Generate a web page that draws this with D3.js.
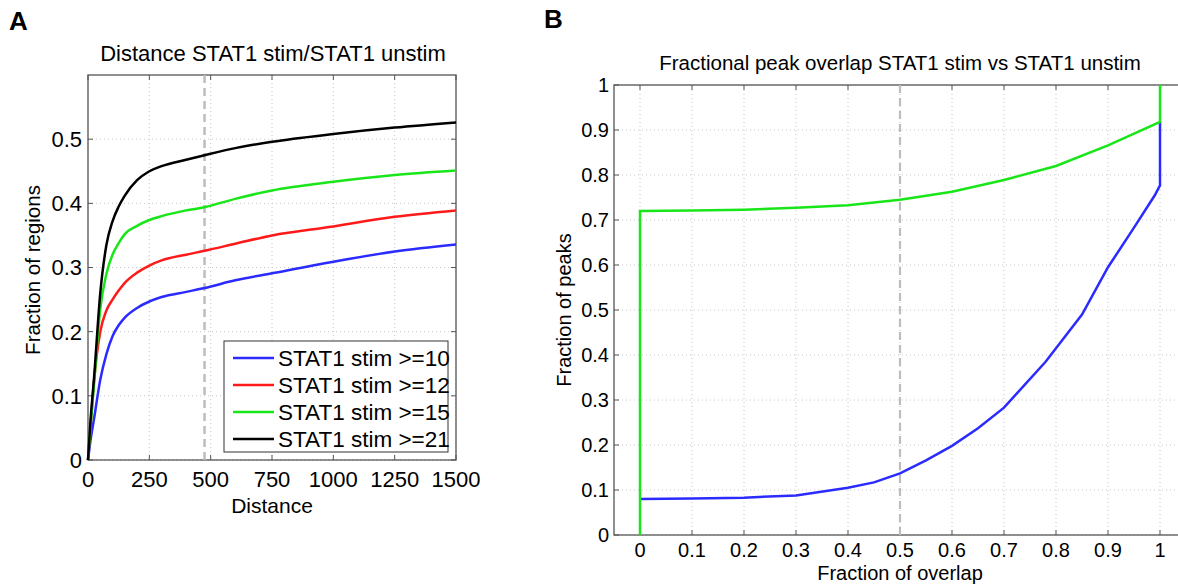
<!DOCTYPE html>
<html>
<head>
<meta charset="utf-8">
<script src="https://cdn.jsdelivr.net/npm/d3@7"></script>
<style>
  body { margin: 0; background: #fff; }
  svg { display: block; font-family: "Liberation Sans", Arial, sans-serif; }
</style>
</head>
<body>
<div id="chart"></div>
<script>
// panel A: distance curves
const distance = [0, 10, 25, 50, 75, 100, 125, 150, 200, 250, 300, 400, 475, 600, 750, 1000, 1250, 1500];
const stim10 = [0, 0.03, 0.065, 0.125, 0.165, 0.193, 0.21, 0.222, 0.237, 0.247, 0.254, 0.262, 0.268, 0.28, 0.291, 0.309, 0.325, 0.336];
const stim12 = [0, 0.05, 0.125, 0.2, 0.233, 0.25, 0.264, 0.276, 0.292, 0.303, 0.311, 0.32, 0.326, 0.337, 0.35, 0.364, 0.379, 0.389];
const stim15 = [0, 0.05, 0.12, 0.235, 0.29, 0.32, 0.338, 0.352, 0.365, 0.374, 0.38, 0.389, 0.394, 0.407, 0.42, 0.4335, 0.444, 0.451];
const stim21 = [0, 0.06, 0.13, 0.26, 0.335, 0.372, 0.395, 0.412, 0.436, 0.45, 0.458, 0.468, 0.475, 0.486, 0.496, 0.508, 0.518, 0.526];
const seriesNames = ["STAT1 stim >=10", "STAT1 stim >=12", "STAT1 stim >=15", "STAT1 stim >=21"];
const seriesColors = ["#2b2bff", "#ff1a1a", "#19e619", "#000000"];
const distTicks = [0, 250, 500, 750, 1000, 1250, 1500];
const fracTicksA = [0, 0.1, 0.2, 0.3, 0.4, 0.5];
const cutoffA = 475;

// panel B: fractional overlap
const overlapBlue = [0, 0.1, 0.2, 0.3, 0.4, 0.45, 0.5, 0.55, 0.6, 0.65, 0.7, 0.78, 0.85, 0.9, 0.95, 0.99, 1, 1];
const peaksBlue = [0.08, 0.081, 0.083, 0.088, 0.105, 0.117, 0.137, 0.166, 0.198, 0.237, 0.283, 0.385, 0.49, 0.595, 0.683, 0.755, 0.777, 0.918];
const overlapGreen = [0, 0, 0.1, 0.2, 0.3, 0.4, 0.5, 0.6, 0.7, 0.8, 0.9, 1, 1];
const peaksGreen = [0, 0.72, 0.721, 0.723, 0.727, 0.733, 0.745, 0.763, 0.789, 0.82, 0.866, 0.918, 1];
const overlapTicks = [0, 0.1, 0.2, 0.3, 0.4, 0.5, 0.6, 0.7, 0.8, 0.9, 1];
const peakTicks = [0, 0.1, 0.2, 0.3, 0.4, 0.5, 0.6, 0.7, 0.8, 0.9, 1];
const cutoffB = 0.5;

const W = 1178, H = 585;
const svg = d3.select("#chart").append("svg")
    .attr("width", W)
    .attr("height", H);

const axisColor = "#555";

function frame(g, x, y, xTicks, yTicks, fontSize, xLabelBase, yLabelGap) {
    const [x0, x1] = x.range();
    const [y0, y1] = y.range();
    // dotted grid
    xTicks.forEach(t => {
        g.append("line")
            .attr("x1", x(t)).attr("x2", x(t))
            .attr("y1", y0).attr("y2", y1)
            .attr("stroke", "#c8c8c8")
            .attr("stroke-dasharray", "1,3");
    });
    yTicks.forEach(t => {
        g.append("line")
            .attr("x1", x0).attr("x2", x1)
            .attr("y1", y(t)).attr("y2", y(t))
            .attr("stroke", "#c8c8c8")
            .attr("stroke-dasharray", "1,3");
    });
    // ticks inward on all sides
    xTicks.forEach(t => {
        g.append("line").attr("x1", x(t)).attr("x2", x(t)).attr("y1", y0).attr("y2", y0 - 5).attr("stroke", axisColor);
        g.append("line").attr("x1", x(t)).attr("x2", x(t)).attr("y1", y1).attr("y2", y1 + 5).attr("stroke", axisColor);
        g.append("text")
            .attr("x", x(t)).attr("y", xLabelBase)
            .attr("text-anchor", "middle")
            .attr("font-size", fontSize)
            .text(t);
    });
    yTicks.forEach(t => {
        g.append("line").attr("x1", x0).attr("x2", x0 + 5).attr("y1", y(t)).attr("y2", y(t)).attr("stroke", axisColor);
        g.append("line").attr("x1", x1).attr("x2", x1 - 5).attr("y1", y(t)).attr("y2", y(t)).attr("stroke", axisColor);
        g.append("text")
            .attr("x", x0 - yLabelGap).attr("y", y(t))
            .attr("dy", "0.36em")
            .attr("text-anchor", "end")
            .attr("font-size", fontSize)
            .text(t);
    });
    g.append("rect")
        .attr("x", x0).attr("y", y1)
        .attr("width", x1 - x0).attr("height", y0 - y1)
        .attr("fill", "none")
        .attr("stroke", axisColor)
        .attr("stroke-width", 1.3);
}

// ---- panel A ----
const xA = d3.scaleLinear().domain([0, 1500]).range([88, 456]);
const yA = d3.scaleLinear().domain([0, 0.6]).range([460, 75]);
const gA = svg.append("g");

frame(gA, xA, yA, distTicks, fracTicksA, 22, 487, 6);

gA.append("line")
    .attr("x1", xA(cutoffA)).attr("x2", xA(cutoffA))
    .attr("y1", yA(0)).attr("y2", yA(0.6))
    .attr("stroke", "#bdbdbd")
    .attr("stroke-width", 2.5)
    .attr("stroke-dasharray", "8,5");

const lineA = d3.line()
    .x(d => xA(d[0]))
    .y(d => yA(d[1]))
    .curve(d3.curveMonotoneX);

[stim10, stim12, stim15, stim21].forEach((vals, i) => {
    gA.append("path")
        .attr("d", lineA(distance.map((d, j) => [d, vals[j]])))
        .attr("fill", "none")
        .attr("stroke", seriesColors[i])
        .attr("stroke-width", 2.5);
});

// legend
const leg = gA.append("g").attr("transform", "translate(224,341)");
leg.append("rect")
    .attr("width", 224).attr("height", 111)
    .attr("fill", "#fff")
    .attr("stroke", "#333")
    .attr("stroke-width", 1);
seriesNames.forEach((name, i) => {
    const yy = 17 + i * 27;
    leg.append("line")
        .attr("x1", 9).attr("x2", 50)
        .attr("y1", yy).attr("y2", yy)
        .attr("stroke", seriesColors[i])
        .attr("stroke-width", 2.5);
    leg.append("text")
        .attr("x", 54).attr("y", yy)
        .attr("dy", "0.36em")
        .attr("font-size", 22.5)
        .text(name);
});

gA.append("text")
    .attr("x", 273).attr("y", 61)
    .attr("text-anchor", "middle")
    .attr("font-size", 22)
    .text("Distance STAT1 stim/STAT1 unstim");
gA.append("text")
    .attr("x", 272).attr("y", 513)
    .attr("text-anchor", "middle")
    .attr("font-size", 21)
    .text("Distance");
gA.append("text")
    .attr("transform", "translate(40,270) rotate(-90)")
    .attr("text-anchor", "middle")
    .attr("font-size", 20.5)
    .text("Fraction of regions");
svg.append("text")
    .attr("x", 9).attr("y", 30)
    .attr("font-size", 26)
    .attr("font-weight", "bold")
    .text("A");

// ---- panel B ----
const xB = d3.scaleLinear().domain([-0.05, 1.05]).range([614, 1186]);
const yB = d3.scaleLinear().domain([0, 1]).range([535, 85]);
const gB = svg.append("g");

frame(gB, xB, yB, overlapTicks, peakTicks, 20, 557, 5);

gB.append("line")
    .attr("x1", xB(cutoffB)).attr("x2", xB(cutoffB))
    .attr("y1", yB(0)).attr("y2", yB(1))
    .attr("stroke", "#bdbdbd")
    .attr("stroke-width", 2.2)
    .attr("stroke-dasharray", "8,5");

const lineB = d3.line()
    .x(d => xB(d[0]))
    .y(d => yB(d[1]));

gB.append("path")
    .attr("d", lineB(overlapBlue.map((d, j) => [d, peaksBlue[j]])))
    .attr("fill", "none")
    .attr("stroke", "#2b2bff")
    .attr("stroke-width", 2.5);
gB.append("path")
    .attr("d", lineB(overlapGreen.map((d, j) => [d, peaksGreen[j]])))
    .attr("fill", "none")
    .attr("stroke", "#19e619")
    .attr("stroke-width", 2.5);

gB.append("text")
    .attr("x", 900).attr("y", 70)
    .attr("text-anchor", "middle")
    .attr("font-size", 20.5)
    .text("Fractional peak overlap STAT1 stim vs STAT1 unstim");
gB.append("text")
    .attr("x", 900).attr("y", 580)
    .attr("text-anchor", "middle")
    .attr("font-size", 20)
    .text("Fraction of overlap");
gB.append("text")
    .attr("transform", "translate(571,310) rotate(-90)")
    .attr("text-anchor", "middle")
    .attr("font-size", 20)
    .text("Fraction of peaks");
svg.append("text")
    .attr("x", 544).attr("y", 28)
    .attr("font-size", 26)
    .attr("font-weight", "bold")
    .text("B");
</script>
</body>
</html>
